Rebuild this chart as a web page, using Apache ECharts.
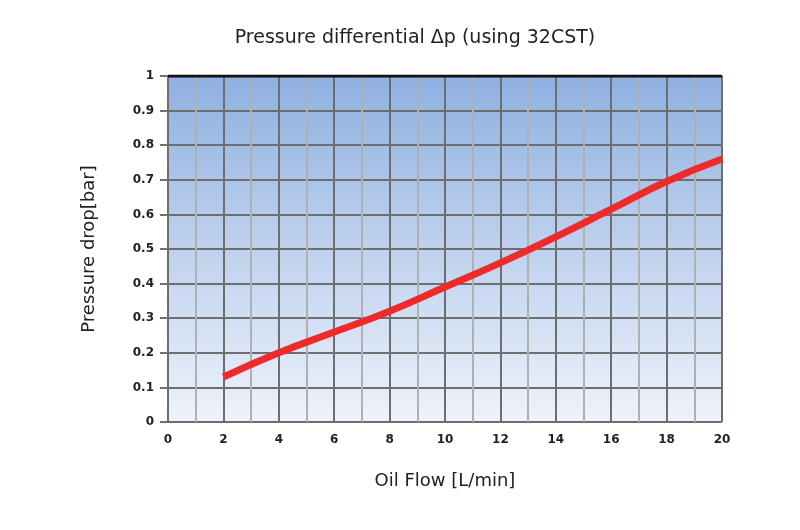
<!DOCTYPE html><html><head><meta charset="utf-8">
<script src="https://cdn.jsdelivr.net/npm/echarts@6/dist/echarts.min.js"></script>
<style>html,body{margin:0;background:#fff}#c{width:800px;height:530px}</style></head><body><div id="c"></div><script>
const flow=[2,4,6,8,10,12,14,16,18,20];
const drop=[0.13,0.2,0.26,0.32,0.39,0.46,0.535,0.615,0.695,0.76];
const chart=echarts.init(document.getElementById('c'));
chart.setOption({
 title:{text:'Pressure differential Δp (using 32CST)',left:410,top:24,textAlign:'center',textStyle:{fontFamily:'DejaVu Sans',fontWeight:'normal',fontSize:19,color:'#222'}},
 grid:{left:168,right:78,top:76,bottom:108,show:true,borderWidth:0,
  backgroundColor:new echarts.graphic.LinearGradient(0,0,0,1,[{offset:0,color:'#8fb0e0'},{offset:1,color:'#eef3fb'}])},
 xAxis:{type:'value',min:0,max:20,interval:2,name:'Oil Flow [L/min]',nameLocation:'middle',nameGap:50,
  nameTextStyle:{fontFamily:'DejaVu Sans',fontSize:18,color:'#222'},
  axisLine:{show:false},axisTick:{show:false},
  axisLabel:{fontFamily:'DejaVu Sans',fontWeight:'bold',fontSize:12,color:'#222',margin:12},
  splitLine:{lineStyle:{color:'#6e6e6e',width:2}},
  minorTick:{show:false,splitNumber:2},minorSplitLine:{show:true,lineStyle:{color:'#b0b0b0',width:2}}},
 yAxis:{type:'value',min:0,max:1,interval:0.1,name:'Pressure drop[bar]',nameLocation:'middle',nameGap:70,
  nameTextStyle:{fontFamily:'DejaVu Sans',fontSize:18,color:'#222'},
  axisLine:{show:false},axisTick:{show:true,length:8,lineStyle:{color:'#6e6e6e',width:2}},
  axisLabel:{fontFamily:'DejaVu Sans',fontWeight:'bold',fontSize:12,color:'#222',margin:14,formatter:v=>String(+v.toFixed(1))},
  splitLine:{lineStyle:{color:'#6e6e6e',width:2}}},
 series:[{type:'line',data:flow.map((x,i)=>[x,drop[i]]),smooth:true,symbol:'none',lineStyle:{color:'#ee2a2a',width:7}},
  {type:'line',data:[[0,1],[20,1]],symbol:'none',silent:true,lineStyle:{color:'#111',width:3},z:1}]
});
</script></body></html>
